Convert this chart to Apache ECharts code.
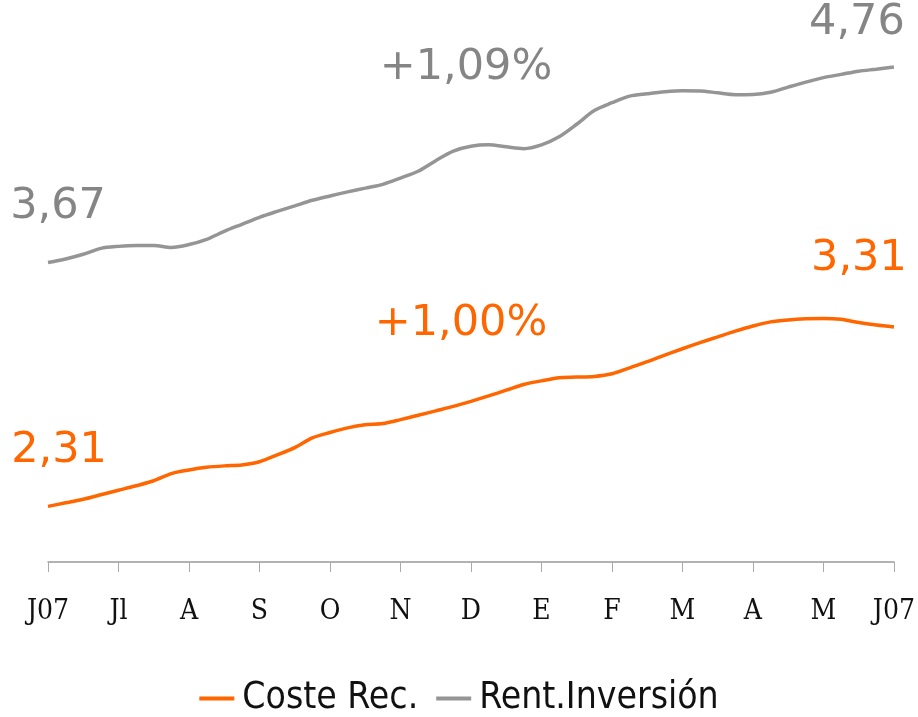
<!DOCTYPE html>
<html>
<head>
<meta charset="utf-8">
<script src="https://cdn.jsdelivr.net/npm/echarts@6/dist/echarts.min.js"></script>
<style>
  html, body { margin: 0; padding: 0; background: #fff; }
  #main { width: 918px; height: 717px; }
</style>
</head>
<body>
<div id="main"></div>
<script>
// etiquetas del eje (una cada 4 puntos)
var months = ['J07', 'Jl', 'A', 'S', 'O', 'N', 'D', 'E', 'F', 'M', 'A', 'M', 'J07'];

// valores semanales aprox. (4 por mes)
var costeRec = [
  2.31, 2.33, 2.35, 2.375, 2.40, 2.425, 2.453, 2.493, 2.513, 2.528, 2.536, 2.541, 2.559,
  2.597, 2.638, 2.692, 2.722, 2.748, 2.765, 2.772, 2.794, 2.818, 2.843, 2.868, 2.896,
  2.926, 2.958, 2.99, 3.01, 3.028, 3.031, 3.035, 3.05, 3.083, 3.117, 3.154, 3.189,
  3.223, 3.255, 3.287, 3.316, 3.339, 3.35, 3.356, 3.358, 3.353, 3.335, 3.321, 3.31
];
var rentInversion = [
  3.67, 3.69, 3.716, 3.749, 3.76, 3.765, 3.765, 3.754, 3.77, 3.799, 3.844, 3.883, 3.922,
  3.955, 3.986, 4.017, 4.041, 4.064, 4.085, 4.106, 4.141, 4.179, 4.238, 4.291, 4.318,
  4.326, 4.315, 4.305, 4.326, 4.371, 4.441, 4.517, 4.561, 4.598, 4.611, 4.622, 4.628,
  4.627, 4.616, 4.606, 4.607, 4.619, 4.648, 4.676, 4.701, 4.719, 4.737, 4.748, 4.76
];

var weeks = costeRec.map(function (v, i) { return i; });

function fmt(v) { return v.toFixed(2).replace('.', ','); }

function marks(data, color, offs) {
  var last = data.length - 1;
  var mid = 24;
  var diff = data[last] - data[0];
  var pts = [
    { coord: [0, data[0]], txt: fmt(data[0]), off: offs[0] },
    { coord: [mid, data[mid]], txt: '+' + fmt(diff) + '%', off: offs[1] },
    { coord: [last, data[last]], txt: fmt(data[last]), off: offs[2] }
  ];
  return {
    symbol: 'circle',
    symbolSize: 0,
    silent: true,
    data: pts.map(function (p) {
      return {
        coord: p.coord,
        label: {
          show: true,
          formatter: p.txt,
          offset: p.off,
          color: color,
          fontSize: 43,
          fontFamily: 'DejaVu Sans'
        }
      };
    })
  };
}

var grayText = '#858585';
var orange = '#ff6600';

var myChart = echarts.init(document.getElementById('main'));
myChart.setOption({
  animation: false,
  grid: { left: 48, right: 23, top: 24, bottom: 155 },
  legend: {
    top: 675,
    left: 'center',
    icon: 'rect',
    itemWidth: 35,
    itemHeight: 4,
    itemGap: 18,
    textStyle: {
      fontSize: 37,
      padding: [0, 0, 0, 3],
      fontFamily: "'DejaVu Sans Condensed', 'Liberation Sans Narrow', sans-serif",
      color: '#111'
    },
    data: ['Coste Rec.', 'Rent.Inversión']
  },
  xAxis: {
    type: 'category',
    boundaryGap: false,
    data: weeks,
    axisLine: { lineStyle: { color: '#999', width: 1.5 } },
    axisTick: {
      length: 10,
      lineStyle: { color: '#aaa' },
      interval: function (i) { return i % 4 === 0; }
    },
    axisLabel: {
      interval: function (i) { return i % 4 === 0; },
      formatter: function (v, i) { return months[i / 4]; },
      margin: 36,
      fontSize: 28,
      color: '#111',
      fontFamily: "'DejaVu Serif Condensed', 'DejaVu Serif', serif"
    },
    splitLine: { show: false }
  },
  yAxis: {
    type: 'value',
    min: 2,
    max: 5,
    show: false
  },
  series: [
    {
      name: 'Coste Rec.',
      type: 'line',
      data: costeRec,
      smooth: 0.3,
      showSymbol: false,
      color: orange,
      lineStyle: { width: 3.5, color: orange },
      markPoint: marks(costeRec, orange, [[11, -56], [-10, -77], [-35, -68]])
    },
    {
      name: 'Rent.Inversión',
      type: 'line',
      data: rentInversion,
      smooth: 0.3,
      showSymbol: false,
      color: '#959595',
      lineStyle: { width: 3.5, color: '#959595' },
      markPoint: marks(rentInversion, grayText, [[10, -56], [-5, -78], [-37, -44]])
    }
  ]
});
</script>
</body>
</html>
